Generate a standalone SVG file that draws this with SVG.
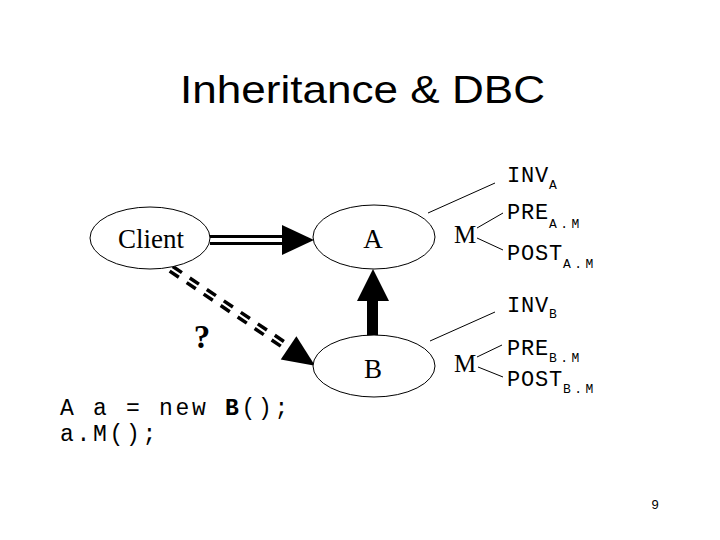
<svg xmlns="http://www.w3.org/2000/svg" width="720" height="540" viewBox="0 0 720 540">
<style>
.node{fill:#fff;stroke:#000;stroke-width:1}
.tm{font-family:"Liberation Serif","Times New Roman",serif;font-size:27px;fill:#000}
.mono{font-family:"Liberation Mono","Courier New",monospace;fill:#000}
.big{font-size:22px;letter-spacing:0.8px}
.sub{font-size:13px;letter-spacing:3.4px}
.code{font-size:23px;letter-spacing:2.7px}
.thin{stroke:#000;stroke-width:1;fill:none}
</style>
<rect width="720" height="540" fill="#fff"/>
<text x="180" y="103" textLength="365" lengthAdjust="spacingAndGlyphs" font-family="Liberation Sans, Arial, sans-serif" font-size="39">Inheritance &amp; DBC</text>
<g id="connectors">
  <line x1="210" y1="236.5" x2="284" y2="236.5" stroke="#000" stroke-width="3"/>
  <line x1="210" y1="243.5" x2="284" y2="243.5" stroke="#000" stroke-width="3"/>
  <polygon points="282,225 314,240 282,255" fill="#000"/>
  <rect x="367" y="299" width="11" height="37" fill="#000"/>
  <polygon points="357,301 373,269 389,301" fill="#000"/>
  <g transform="translate(170,268) rotate(34)">
    <line x1="0" y1="-2.8" x2="143" y2="-2.8" stroke="#000" stroke-width="3.5" stroke-dasharray="11 9.5" stroke-dashoffset="-1.5"/>
    <line x1="0" y1="2.8" x2="143" y2="2.8" stroke="#000" stroke-width="3.5" stroke-dasharray="11 9.5" stroke-dashoffset="-1.5"/>
    <polygon points="143,-14 175,0 143,14" fill="#000"/>
  </g>
  <line class="thin" x1="428" y1="213" x2="495" y2="183"/>
  <line class="thin" x1="477" y1="228" x2="503" y2="213"/>
  <line class="thin" x1="477" y1="238" x2="503" y2="250"/>
  <line class="thin" x1="430" y1="341" x2="495" y2="312"/>
  <line class="thin" x1="477" y1="357" x2="502" y2="345"/>
  <line class="thin" x1="478" y1="367" x2="503" y2="377"/>
</g>
<g id="client">
  <ellipse class="node" cx="150" cy="238" rx="60" ry="31"/>
  <text class="tm" x="151" y="248" text-anchor="middle">Client</text>
</g>
<g id="A">
  <ellipse class="node" cx="374" cy="237" rx="61" ry="32"/>
  <text class="tm" x="373" y="248" text-anchor="middle">A</text>
</g>
<g id="B">
  <ellipse class="node" cx="374" cy="366" rx="61" ry="31"/>
  <text class="tm" x="373" y="378" text-anchor="middle">B</text>
</g>
<text class="tm" x="202" y="348" text-anchor="middle" style="font-size:33px;font-weight:bold">?</text>
<g id="contractA">
  <text class="tm" x="465" y="243" text-anchor="middle" style="font-size:25px">M</text>
  <text class="mono big" x="507" y="182">INV<tspan class="sub" dy="7">A</tspan></text>
  <text class="mono big" x="507" y="219">PRE<tspan class="sub" dy="9">A.M</tspan></text>
  <text class="mono big" x="507" y="260">POST<tspan class="sub" dy="8">A.M</tspan></text>
</g>
<g id="contractB">
  <text class="tm" x="465" y="372" text-anchor="middle" style="font-size:25px">M</text>
  <text class="mono big" x="507" y="312">INV<tspan class="sub" dy="6">B</tspan></text>
  <text class="mono big" x="507" y="355">PRE<tspan class="sub" dy="7">B.M</tspan></text>
  <text class="mono big" x="507" y="386">POST<tspan class="sub" dy="7">B.M</tspan></text>
</g>
<g id="code">
  <text class="mono code" x="60" y="415">A a = new <tspan font-weight="bold">B</tspan>();</text>
  <text class="mono code" x="60" y="441">a.M();</text>
</g>
<text x="655" y="509" text-anchor="middle" font-family="Liberation Sans, Arial, sans-serif" font-size="13">9</text>
</svg>
